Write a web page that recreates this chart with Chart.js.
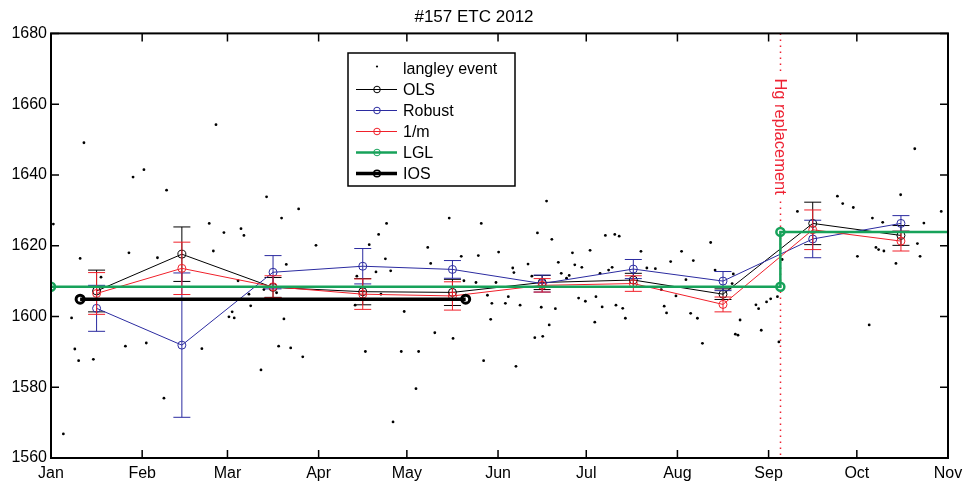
<!DOCTYPE html>
<html>
<head>
<meta charset="utf-8">
<title>#157 ETC 2012</title>
<script src="https://cdn.jsdelivr.net/npm/chart.js@4.4.0/dist/chart.umd.min.js"></script>
<style>
  html, body { margin: 0; padding: 0; background: #fff; }
  canvas { display: block; }
</style>
</head>
<body>
<canvas id="etc" width="965" height="482"></canvas>
<script>
// ---- time axis (days since 1 Jan 2012) ----
const monthStarts = [0, 31, 60, 91, 121, 152, 182, 213, 244, 274, 305];
const monthLabels = ['Jan', 'Feb', 'Mar', 'Apr', 'May', 'Jun', 'Jul', 'Aug', 'Sep', 'Oct', 'Nov'];
const yTicks = [1560, 1580, 1600, 1620, 1640, 1660, 1680];

// ---- monthly calibration estimates (mid-month) ----
const binDays = [15.5, 44.5, 75.5, 106, 136.5, 167, 198, 228.5, 259, 289];
const olsValues    = [1607.2, 1617.6, 1608.2, 1607.0, 1606.8, 1609.6, 1610.3, 1606.3, 1626.3, 1622.9];
const olsErrors    = [5.9, 7.7, 2.8, 3.7, 3.7, 2.0, 1.9, 1.5, 6.0, 2.8];
const robustValues = [1602.3, 1591.9, 1612.5, 1614.2, 1613.3, 1609.3, 1613.4, 1610.0, 1621.9, 1626.3];
const robustErrors = [6.5, 20.4, 4.7, 5.0, 2.5, 2.4, 2.7, 2.7, 5.3, 2.2];
const invmValues   = [1606.5, 1613.6, 1608.4, 1606.3, 1605.8, 1608.8, 1609.3, 1603.4, 1624.5, 1621.3];
const invmErrors   = [5.9, 7.4, 3.1, 4.3, 4.0, 1.9, 2.2, 2.1, 5.6, 2.8];

// ---- LGL step and IOS level ----
const lglDays   = [0, 248, 248, 305];
const lglValues = [1608.4, 1608.4, 1623.9, 1623.9];
const iosDays   = [9.9, 141];
const iosValues = [1604.9, 1604.9];
const hgReplacementDay = 248;

// ---- individual langley events [day, ETC] ----
const langleyEvents = [
  [0.8,1626.1],[4.2,1566.8],[7,1599.6],[8.1,1590.8],[9.4,1587.5],[9.9,1616.4],[11.2,1649.1],[14.4,1587.9],
  [17,1611.1],[25.3,1591.6],[26.5,1618.0],[27.9,1639.4],[31.6,1641.5],[32.4,1592.5],[36.2,1616.6],[38.4,1576.9],
  [39.3,1635.7],[51.3,1590.9],[53.8,1626.3],[55.2,1618.5],[56.1,1654.2],[58.8,1623.7],[60.5,1599.9],[61.6,1601.3],
  [62.3,1599.6],[63.6,1610.1],[64.6,1624.8],[65.6,1622.9],[67.3,1606.3],[67.9,1603.0],[71.4,1584.9],[72.4,1607.6],
  [73.3,1633.8],[76.7,1606.7],[77.4,1591.6],[78.4,1627.8],[79.2,1599.3],[80,1614.7],[81.5,1591.1],[84.2,1630.4],
  [85.6,1588.6],[90.1,1620.1],
  [103.4,1603.2],[104,1611.4],[106.9,1590.1],[108.2,1620.3],[110.5,1612.6],[111.4,1623.2],[112.2,1606.3],
  [113.7,1616.3],[114.1,1626.3],[115.5,1612.9],[116.3,1570.2],[119.1,1590.1],[120.1,1601.4],[124.1,1579.6],
  [125,1590.1],[128.1,1619.5],[129.1,1615],[130.5,1595.4],[135.4,1627.8],[136.7,1593.8],[139.5,1617],
  [140.4,1610.1],[144.5,1609.6],[145.3,1617.2],[146.3,1626.3],[147.1,1587.5],[148.4,1606],[149.5,1599.2],
  [149.9,1603.7],[151.3,1609.6],[152.2,1618.2],[154.5,1603.7],[155.5,1605.6],[157,1613.7],[157.4,1612.4],
  [158.1,1585.9],[159.5,1603.2],[162.2,1614.8],[163.5,1611.4],[164.5,1594],[165.4,1623.6],[166.7,1602.6],
  [167.2,1594.4],[168.5,1632.6],[169.4,1597.6],[170.3,1621.8],[171.5,1602.2],[172.5,1615.3],[173.5,1612.2],
  [175.3,1610.8],[176.2,1611.6],[177.3,1618],[178.1,1614.6],[179.4,1605.2],[180.5,1613.9],[181.7,1604.3],
  [183.3,1618.7],[184.9,1598.4],[185.3,1605.6],[186.7,1612.2],[187.4,1602.7],[188.5,1622.9],[189.6,1613.1],
  [190.8,1613.9],[191.7,1623.2],[192.1,1603.2],[193.2,1622.7],[194.4,1602.3],[195.3,1599.5],
  [200.6,1618.4],[202.6,1613.7],[205.5,1613.5],[207.5,1607.6],[208.5,1602.9],[209.3,1601],[210.7,1615.5],
  [212.5,1605.8],[214.4,1618.4],[215.9,1610.4],[217.5,1600.9],[218.4,1615.8],[219.8,1599.5],[221.5,1592.4],
  [224.3,1620.9],[225.8,1613.1],[231.6,1609.3],[232,1612],[232.7,1595],[233.6,1594.7],[234.3,1599],
  [239.7,1603.3],[240.6,1602.2],[241.5,1596.1],[243.3,1604.1],[244.7,1605],[247,1605.6],[247.5,1592.8],
  [248.6,1616.1],
  [253.8,1629.7],[267.4,1634],[269.2,1631.9],[272.8,1630.8],[274.2,1617],[278.2,1597.6],[279.3,1627.8],
  [280.5,1619.5],[281.4,1618.9],[282.8,1626.6],[283.2,1618.5],[287.3,1615],[288.9,1634.4],[293.7,1647.4],
  [294.6,1620.6],[295.5,1617],[296.8,1626.4],[302.7,1629.7]
];

const FONT = 'Liberation Sans, Arial, Helvetica, sans-serif';
const C_BLACK = '#000000';
const C_BLUE  = '#2b2ba0';
const C_RED   = '#f0202a';
const C_GREEN = '#17a25a';
const C_HG    = '#ee2233';

const pts = (xs, ys) => xs.map((x, i) => ({ x, y: ys[i] }));

function seriesDataset(label, color, values, errors, order) {
  return {
    label, order,
    data: pts(binDays, values),
    errors,
    borderColor: color, borderWidth: 1,
    pointStyle: 'circle', pointRadius: 4, pointBorderWidth: 1,
    pointBorderColor: color, pointBackgroundColor: 'rgba(0,0,0,0)',
    tension: 0, fill: false
  };
}

const datasets = [
  {
    label: 'langley event', order: 6,
    data: langleyEvents.map(([x, y]) => ({ x, y })),
    showLine: false, pointStyle: 'circle', pointRadius: 1.4, pointBorderWidth: 0,
    pointBackgroundColor: C_BLACK, borderColor: C_BLACK, legendKind: 'dot'
  },
  seriesDataset('OLS', C_BLACK, olsValues, olsErrors, 5),
  seriesDataset('Robust', C_BLUE, robustValues, robustErrors, 4),
  seriesDataset('1/m', C_RED, invmValues, invmErrors, 3),
  {
    label: 'LGL', order: 2,
    data: pts(lglDays, lglValues),
    borderColor: C_GREEN, borderWidth: 2.5,
    pointStyle: 'circle', pointRadius: [4, 4, 4, 0], pointBorderWidth: 2.5,
    pointBorderColor: C_GREEN, pointBackgroundColor: 'rgba(0,0,0,0)',
    tension: 0, fill: false
  },
  {
    label: 'IOS', order: 1,
    data: pts(iosDays, iosValues),
    borderColor: C_BLACK, borderWidth: 3.5,
    pointStyle: 'circle', pointRadius: 4, pointBorderWidth: 3,
    pointBorderColor: C_BLACK, pointBackgroundColor: 'rgba(0,0,0,0)',
    tension: 0, fill: false
  }
];

// vertical error bars with caps, drawn right after their own series
const errorBars = {
  id: 'errorBars',
  afterDatasetDraw(chart, args) {
    const ds = chart.data.datasets[args.index];
    if (!ds.errors) return;
    const xs = chart.scales.x, ys = chart.scales.y, ctx = chart.ctx;
    const cap = 8.5;
    ctx.save();
    ctx.strokeStyle = ds.borderColor;
    ctx.lineWidth = 1;
    ds.data.forEach((p, i) => {
      const e = ds.errors[i];
      const px = xs.getPixelForValue(p.x);
      const top = ys.getPixelForValue(p.y + e);
      const bot = ys.getPixelForValue(p.y - e);
      ctx.beginPath();
      ctx.moveTo(px, top); ctx.lineTo(px, bot);
      ctx.moveTo(px - cap, top); ctx.lineTo(px + cap, top);
      ctx.moveTo(px - cap, bot); ctx.lineTo(px + cap, bot);
      ctx.stroke();
    });
    ctx.restore();
  }
};

// dotted marker for the Hg lamp replacement, with its rotated label
const hgMarker = {
  id: 'hgMarker',
  beforeDatasetsDraw(chart) {
    const { ctx, chartArea: a } = chart;
    const x = Math.round(chart.scales.x.getPixelForValue(hgReplacementDay)) + 0.5;
    ctx.save();
    ctx.strokeStyle = C_HG;
    ctx.lineWidth = 1.5;
    ctx.setLineDash([1.5, 4.5]);
    ctx.beginPath();
    ctx.moveTo(x, a.top); ctx.lineTo(x, a.bottom);
    ctx.stroke();
    ctx.setLineDash([]);
    const y0 = a.top + 45;
    ctx.font = '16.5px ' + FONT;
    const w = ctx.measureText('Hg replacement').width;
    ctx.fillStyle = '#fff';
    ctx.fillRect(x - 9, y0 - 6, 18, w + 10);
    ctx.translate(x, y0);
    ctx.rotate(Math.PI / 2);
    ctx.fillStyle = C_HG;
    ctx.textAlign = 'left';
    ctx.textBaseline = 'middle';
    ctx.fillText('Hg replacement', 0, 1);
    ctx.restore();
  }
};

// closed axes box with inward tick marks on all four sides
const axesBox = {
  id: 'axesBox',
  afterDatasetsDraw(chart) {
    const { ctx, chartArea: a } = chart;
    const xs = chart.scales.x, ys = chart.scales.y;
    const tl = 8;
    ctx.save();
    ctx.strokeStyle = '#000';
    ctx.lineWidth = 1.5;
    ctx.beginPath();
    xs.ticks.forEach(t => {
      const px = xs.getPixelForValue(t.value);
      ctx.moveTo(px, a.bottom); ctx.lineTo(px, a.bottom - tl);
      ctx.moveTo(px, a.top); ctx.lineTo(px, a.top + tl);
    });
    ys.ticks.forEach(t => {
      const py = ys.getPixelForValue(t.value);
      ctx.moveTo(a.left, py); ctx.lineTo(a.left + tl, py);
      ctx.moveTo(a.right, py); ctx.lineTo(a.right - tl, py);
    });
    ctx.stroke();
    ctx.lineWidth = 2;
    ctx.strokeRect(a.left, a.top, a.right - a.left, a.bottom - a.top);
    ctx.restore();
  }
};

// boxed legend with line+marker samples
const boxLegend = {
  id: 'boxLegend',
  afterDraw(chart) {
    const ctx = chart.ctx;
    const bx = 348, by = 53, bw = 167, bh = 133;
    ctx.save();
    ctx.fillStyle = '#fff';
    ctx.fillRect(bx, by, bw, bh);
    ctx.strokeStyle = '#000';
    ctx.lineWidth = 1.5;
    ctx.strokeRect(bx, by, bw, bh);
    ctx.font = '16px ' + FONT;
    ctx.textBaseline = 'middle';
    ctx.textAlign = 'left';
    const lx0 = 356, lx1 = 397, mx = 377, tx = 403;
    chart.data.datasets.forEach((ds, i) => {
      const y = by + 15.5 + i * 21;
      if (ds.legendKind === 'dot') {
        ctx.fillStyle = '#000';
        ctx.beginPath(); ctx.arc(mx, y - 2, 1.1, 0, Math.PI * 2); ctx.fill();
      } else {
        ctx.strokeStyle = ds.borderColor;
        ctx.lineWidth = ds.borderWidth;
        ctx.beginPath(); ctx.moveTo(lx0, y); ctx.lineTo(lx1, y); ctx.stroke();
        ctx.lineWidth = ds.borderWidth > 3 ? 1.5 : 1;
        ctx.beginPath(); ctx.arc(mx, y, 3.3, 0, Math.PI * 2);
        ctx.stroke();
      }
      ctx.fillStyle = '#000';
      ctx.fillText(ds.label, tx, y + 1);
    });
    ctx.restore();
  }
};

Chart.defaults.font.family = FONT;
Chart.defaults.color = '#000';

new Chart(document.getElementById('etc'), {
  type: 'line',
  data: { datasets },
  options: {
    responsive: false,
    animation: false,
    devicePixelRatio: 1,
    layout: { padding: { left: 0, right: 17, top: 0, bottom: 0 } },
    plugins: {
      legend: { display: false },
      tooltip: { enabled: false },
      title: {
        display: true,
        text: '#157 ETC 2012',
        color: '#000',
        font: { family: FONT, size: 17, weight: 'normal' },
        padding: { top: 7, bottom: 6 }
      }
    },
    scales: {
      x: {
        type: 'linear',
        min: monthStarts[0],
        max: monthStarts[monthStarts.length - 1],
        afterBuildTicks(scale) { scale.ticks = monthStarts.map(v => ({ value: v })); },
        afterFit(scale) { scale.height = 24; scale.paddingLeft = 0; scale.paddingRight = 0; },
        ticks: {
          autoSkip: false, maxRotation: 0, padding: 6,
          font: { family: FONT, size: 16 }, color: '#000',
          callback: v => monthLabels[monthStarts.indexOf(v)]
        },
        grid: { display: false, drawTicks: false },
        border: { display: false }
      },
      y: {
        type: 'linear',
        min: yTicks[0],
        max: yTicks[yTicks.length - 1],
        afterBuildTicks(scale) { scale.ticks = yTicks.map(v => ({ value: v })); },
        afterFit(scale) { scale.width = 51; },
        ticks: {
          padding: 4,
          font: { family: FONT, size: 16 }, color: '#000',
          callback: v => String(v)
        },
        grid: { display: false, drawTicks: false },
        border: { display: false }
      }
    }
  },
  plugins: [hgMarker, errorBars, axesBox, boxLegend]
});
</script>
</body>
</html>
